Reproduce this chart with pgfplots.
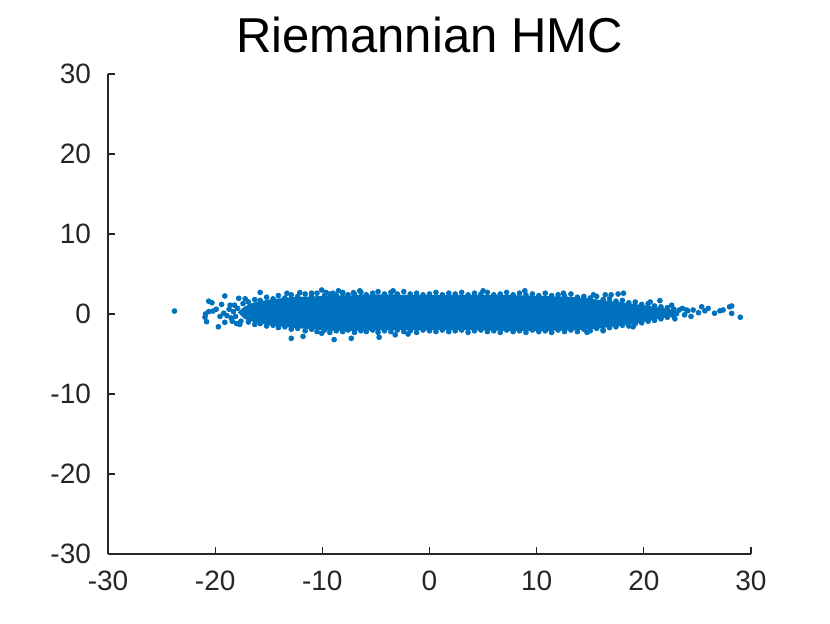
\documentclass[border=0pt]{standalone}
\usepackage{fontspec}
\setmainfont{Liberation Sans}
\usepackage{pgfplots}
\pgfplotsset{compat=1.18}
\definecolor{mblue}{HTML}{0072BD}
\definecolor{axgray}{HTML}{262626}

\begin{document}
\begin{tikzpicture}
\useasboundingbox (-54pt,-34.5pt) rectangle (361pt,277pt);
\begin{axis}[
  at={(0,0)}, anchor=south west,
  scale only axis,
  width=321.5pt, height=240pt,
  xmin=-30, xmax=30, ymin=-30, ymax=30,
  axis x line*=bottom, axis y line*=left,
  axis line style={axgray, line width=0.6pt, -},
  xtick={-30,-20,...,30}, ytick={-30,-20,...,30},
  xticklabels={-30,-20,-10,0,10,20,30},
  yticklabels={-30,-20,-10,0,10,20,30},
  tick align=inside,
  major tick length=3.5pt,
  tick style={axgray, line width=0.6pt},
  ticklabel style={font=\fontsize{14}{16}\selectfont, text=axgray},
  yticklabel style={xshift=-5pt},
  xticklabel style={yshift=-5pt},
  title={Riemannian HMC},
  title style={font=\fontsize{24.5}{28}\selectfont, yshift=1pt},
]
% dense core of the sample cloud
\addplot[fill=mblue, draw=none] coordinates {
  (-17.9,0.2) (-17.3,0.9) (-16.5,1.4) (-15,1.8) (-13,2.1) (-11,2.2) (-9,2.3) (-7,2.35)
  (-5,2.45) (-3,2.45) (-1,2.35) (1,2.35) (3,2.4) (5,2.4) (7,2.4) (9,2.3)
  (11,2.25) (13,2.15) (14.5,2.0) (16,1.75) (18,1.45) (20,1.1) (22,0.7) (23.3,0.4)
  (23.3,-0.2) (22,-0.45) (20.5,-0.85) (19,-1.25) (17,-1.6) (15,-1.95) (13,-2.05)
  (11,-2.1) (9,-2.1) (7,-2.1) (5,-2.05) (3,-2.0) (1,-2.0) (-1,-2.05) (-3,-2.0)
  (-5,-2.05) (-7,-2.1) (-9,-2.1) (-11,-1.9) (-13,-1.7) (-15,-1.4) (-16.4,-1.0)
  (-17.3,-0.6)
} -- cycle;
% samples on the upper edge
\addplot[only marks, mark=*, mark size=1.2pt, mblue] coordinates {
  (-17.4,1.3) (-16.9,1.5) (-16.3,1.8) (-15.8,1.7) (-15.2,2.1) (-14.6,1.9)
  (-14.1,2.3) (-13.5,2.0) (-12.9,2.4) (-12.3,2.2) (-11.6,2.5) (-11.0,2.2)
  (-10.5,2.6) (-9.8,2.3) (-9.3,2.5) (-8.7,2.3) (-8.1,2.6) (-7.6,2.4)
  (-7.0,2.5) (-6.4,2.7) (-5.9,2.4) (-5.3,2.6) (-4.8,2.8) (-4.2,2.5)
  (-3.6,2.7) (-3.0,2.5) (-2.4,2.8) (-1.8,2.5) (-1.2,2.6) (-0.6,2.4)
  (0.0,2.5) (0.6,2.7) (1.2,2.4) (1.8,2.6) (2.4,2.5) (3.0,2.7) (3.6,2.4)
  (4.2,2.6) (4.8,2.5) (5.4,2.7) (6.0,2.4) (6.6,2.5) (7.2,2.7) (7.8,2.4)
  (8.4,2.6) (9.0,2.4) (9.6,2.5) (10.2,2.3) (10.8,2.6) (11.4,2.3) (12.0,2.4)
  (12.6,2.2) (13.2,2.5) (13.8,2.1) (14.4,2.2) (15.0,2.0) (15.6,2.2) (16.2,1.8)
  (16.8,1.9) (17.4,1.6) (18.0,1.7) (18.6,1.4) (19.2,1.5) (19.8,1.2) (20.4,1.3)
  (21.0,1.0) (21.6,0.9) (22.2,0.8) (22.8,0.6) (23.3,0.5)
};
% samples on the lower edge
\addplot[only marks, mark=*, mark size=1.2pt, mblue] coordinates {
  (-17.6,-0.9) (-16.9,-1.0) (-16.3,-1.3) (-15.8,-1.2) (-15.2,-1.5) (-14.6,-1.4)
  (-14.1,-1.7) (-13.5,-1.6) (-12.9,-1.9) (-12.3,-1.8) (-11.6,-2.1) (-11.0,-1.9)
  (-10.5,-2.2) (-9.8,-2.0) (-9.3,-2.3) (-8.7,-2.1) (-8.1,-2.2) (-7.6,-2.0)
  (-7.0,-2.3) (-6.4,-2.1) (-5.9,-2.2) (-5.3,-2.0) (-4.8,-2.3) (-4.2,-2.1)
  (-3.6,-2.2) (-3.0,-2.0) (-2.4,-2.2) (-1.8,-2.1) (-1.2,-2.3) (-0.6,-2.0)
  (0.0,-2.1) (0.6,-2.2) (1.2,-2.0) (1.8,-2.2) (2.4,-2.1) (3.0,-2.0) (3.6,-2.3)
  (4.2,-2.1) (4.8,-2.0) (5.4,-2.2) (6.0,-2.1) (6.6,-2.3) (7.2,-2.0) (7.8,-2.2)
  (8.4,-2.1) (9.0,-2.3) (9.6,-2.0) (10.2,-2.2) (10.8,-2.1) (11.4,-2.3) (12.0,-2.0)
  (12.6,-2.2) (13.2,-2.0) (13.8,-2.2) (14.4,-1.9) (15.0,-2.1) (15.6,-1.8) (16.2,-2.0)
  (16.8,-1.7) (17.4,-1.6) (18.0,-1.4) (18.6,-1.5) (19.2,-1.2) (19.8,-1.1) (20.4,-0.9)
  (21.0,-0.8) (21.6,-0.6) (22.2,-0.4) (22.8,-0.3)
};
% sparse samples: tails and outliers
\addplot[only marks, mark=*, mark size=1.2pt, mblue] coordinates {
  (-23.8,0.37) (-20.6,1.6) (-20.3,1.4) (-20.95,-0.4) (-20.8,-0.96) (-20.2,0.37)
  (-20.6,0.3) (-19.7,-1.6) (-19.1,2.25) (-19.4,1.2) (-19.55,-0.3) (-19.1,-1.04)
  (-18.6,1.1) (-18.3,0.3) (-17.8,1.96) (-17.2,1.9) (-18.2,1.1) (-18.5,-0.5)
  (-15.8,2.7) (-20.9,0.0) (-19.9,0.6) (-18.9,-0.2) (-18.0,-1.2)
  (-18.4,-0.9) (-17.9,0.7) (-18.7,0.6) (-19.2,0.1) (-18.1,-0.3) (-17.7,-1.3)
  (-13.3,2.6) (-12.1,2.67) (-11.0,2.6) (-10.06,3.0) (-9.65,2.7) (-9.0,2.6)
  (-8.5,2.9) (-8.1,2.7) (-7.1,2.67) (-6.5,2.9) (-3.4,2.9) (5.0,2.9) (8.9,2.9)
  (12.5,2.6) (15.3,2.4) (16.4,2.4) (16.95,2.4) (17.6,2.5) (18.1,2.6) (20.6,1.5)
  (21.5,1.67) (22.6,1.1) (24.0,0.5)
  (-12.9,-3.04) (-11.8,-2.8) (-10.06,-2.4) (-8.9,-3.2) (-7.3,-3.04) (-4.7,-2.9)
  (-3.2,-2.6) (-2.0,-2.5) (14.7,-2.3) (16.2,-2.1) (19.0,-1.6)
  (23.6,0.7) (24.1,0.4) (24.6,0.5) (25.1,0.16) (25.4,0.9) (25.7,0.4) (26.0,0.7)
  (26.6,0.1) (27.1,0.4) (27.4,0.5) (28.0,0.9) (28.2,1.0) (28.2,0.08) (29.0,-0.4)
  (23.8,-0.1) (24.4,-0.3) (22.9,-0.6)
};
\end{axis}
\end{tikzpicture}
\end{document}
